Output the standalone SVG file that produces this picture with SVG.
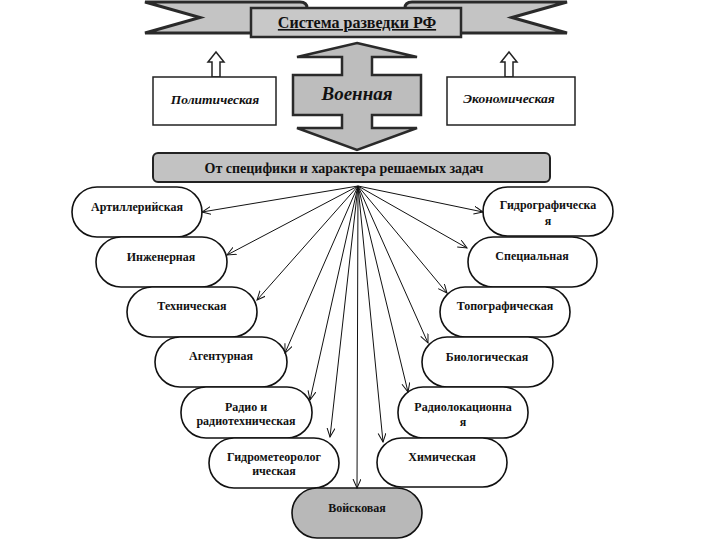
<svg xmlns="http://www.w3.org/2000/svg" width="720" height="540" viewBox="0 0 720 540">
<style>
.pill{fill:#fff;stroke:#111;stroke-width:1.6}
.box{fill:#fff;stroke:#222;stroke-width:1.5}
.pt{font-family:"Liberation Serif",serif;font-weight:bold;font-size:12px;text-anchor:middle;fill:#111}
.it{font-family:"Liberation Serif",serif;font-weight:bold;font-style:italic;text-anchor:middle;fill:#111}
.con{stroke:#111;stroke-width:1;fill:none;marker-end:url(#ah)}
</style>
<defs>
<marker id="ah" markerUnits="userSpaceOnUse" markerWidth="10" markerHeight="9" refX="9" refY="4" orient="auto">
<path d="M0,0 L9,4 L0,8" fill="none" stroke="#111" stroke-width="1"/>
</marker>
</defs>
<rect width="720" height="540" fill="#fff"/>
<g id="banner">
<path d="M145,2 L300,2 Q307,2 307,8 L307,33 L145,33 L200,17.5 Z" fill="#c4c4c4" stroke="#2a2a2a" stroke-width="3" stroke-linejoin="miter"/>
<path d="M567,2 L412,2 Q405,2 405,8 L405,33 L567,33 L512,17.5 Z" fill="#c4c4c4" stroke="#2a2a2a" stroke-width="3" stroke-linejoin="miter"/>
<rect x="251" y="8" width="210" height="29" fill="#c8c8c8" stroke="#2a2a2a" stroke-width="2.5"/>
<text x="357" y="28" font-family="'Liberation Serif',serif" font-weight="bold" font-size="16" text-anchor="middle" text-decoration="underline" fill="#111">Система разведки РФ</text>
</g>
<g id="political">
<polygon class="box" points="216,52 224,62 220,62 220,77 212,77 212,62 208,62"/>
<rect class="box" x="153" y="77" width="123" height="48"/>
<text class="it" x="215" y="104" font-size="13.5">Политическая</text>
</g>
<g id="economic">
<polygon class="box" points="509,52 517,62 513,62 513,77 505,77 505,62 501,62"/>
<rect class="box" x="447" y="77" width="128" height="48"/>
<text class="it" x="509" y="103" font-size="13.5">Экономическая</text>
</g>
<g id="military">
<path d="M357,43 L417,57 L372,57 L372,75 L421,75 L421,115 L372,115 L372,128 L417,128 L357,150 L297,128 L342,128 L342,115 L293,115 L293,75 L342,75 L342,57 L297,57 Z" fill="#bdbdbd" stroke="#2a2a2a" stroke-width="2.5" stroke-linejoin="miter"/>
<text class="it" x="357" y="100" font-size="19">Военная</text>
</g>
<g id="criterion">
<rect x="153" y="153" width="397" height="29" rx="5" fill="#c2c2c2" stroke="#222" stroke-width="2"/>
<text x="344" y="173" font-family="'Liberation Serif',serif" font-weight="bold" font-size="14" text-anchor="middle" fill="#111">От  специфики и характера решаемых задач</text>
</g>
<g id="artillery"><rect class="pill" x="72" y="187" width="130" height="50" rx="25"/><text class="pt" x="137" y="211">Артиллерийская</text></g>
<g id="engineering"><rect class="pill" x="96" y="237" width="131" height="50" rx="25"/><text class="pt" x="161" y="261">Инженерная</text></g>
<g id="technical"><rect class="pill" x="127" y="287" width="130" height="50" rx="25"/><text class="pt" x="192" y="310">Техническая</text></g>
<g id="agent"><rect class="pill" x="155" y="337" width="132" height="50" rx="25"/><text class="pt" x="221" y="360">Агентурная</text></g>
<g id="radio"><rect class="pill" x="181" y="387" width="131" height="51" rx="25"/><text class="pt" x="246" y="411">Радио и</text><text class="pt" x="246" y="425">радиотехническая</text></g>
<g id="hydromet"><rect class="pill" x="209" y="438" width="130" height="50" rx="25"/><text class="pt" x="274" y="461">Гидрометеоролог</text><text class="pt" x="274" y="475">ическая</text></g>
<g id="troop"><rect x="292" y="488" width="130" height="50" rx="25" fill="#b8b8b8" stroke="#111" stroke-width="1.6"/><text class="pt" x="357" y="512">Войсковая</text></g>
<g id="hydrographic"><rect class="pill" x="483" y="187" width="130" height="49" rx="24.5"/><text class="pt" x="548" y="209">Гидрографическа</text><text class="pt" x="548" y="225">я</text></g>
<g id="special"><rect class="pill" x="468" y="237" width="129" height="50" rx="25"/><text class="pt" x="532" y="260">Специальная</text></g>
<g id="topographic"><rect class="pill" x="440" y="287" width="130" height="50" rx="25"/><text class="pt" x="505" y="310">Топографическая</text></g>
<g id="biological"><rect class="pill" x="422" y="337" width="131" height="50" rx="25"/><text class="pt" x="487" y="361">Биологическая</text></g>
<g id="radiolocation"><rect class="pill" x="398" y="387" width="130" height="51" rx="25"/><text class="pt" x="463" y="411">Радиолокационна</text><text class="pt" x="463" y="426">я</text></g>
<g id="chemical"><rect class="pill" x="377" y="438" width="130" height="49" rx="24.5"/><text class="pt" x="442" y="461">Химическая</text></g>
<g id="connectors">
<line class="con" x1="358" y1="186" x2="202" y2="212"/>
<line class="con" x1="358" y1="186" x2="227" y2="255"/>
<line class="con" x1="358" y1="186" x2="257" y2="300"/>
<line class="con" x1="358" y1="186" x2="285" y2="353"/>
<line class="con" x1="358" y1="186" x2="310" y2="400"/>
<line class="con" x1="358" y1="186" x2="330" y2="437"/>
<line class="con" x1="358" y1="186" x2="357" y2="488"/>
<line class="con" x1="358" y1="186" x2="483" y2="212"/>
<line class="con" x1="358" y1="186" x2="467" y2="248"/>
<line class="con" x1="358" y1="186" x2="447" y2="293"/>
<line class="con" x1="358" y1="186" x2="428" y2="343"/>
<line class="con" x1="358" y1="186" x2="408" y2="392"/>
<line class="con" x1="358" y1="186" x2="383" y2="442"/>
</g>
</svg>
